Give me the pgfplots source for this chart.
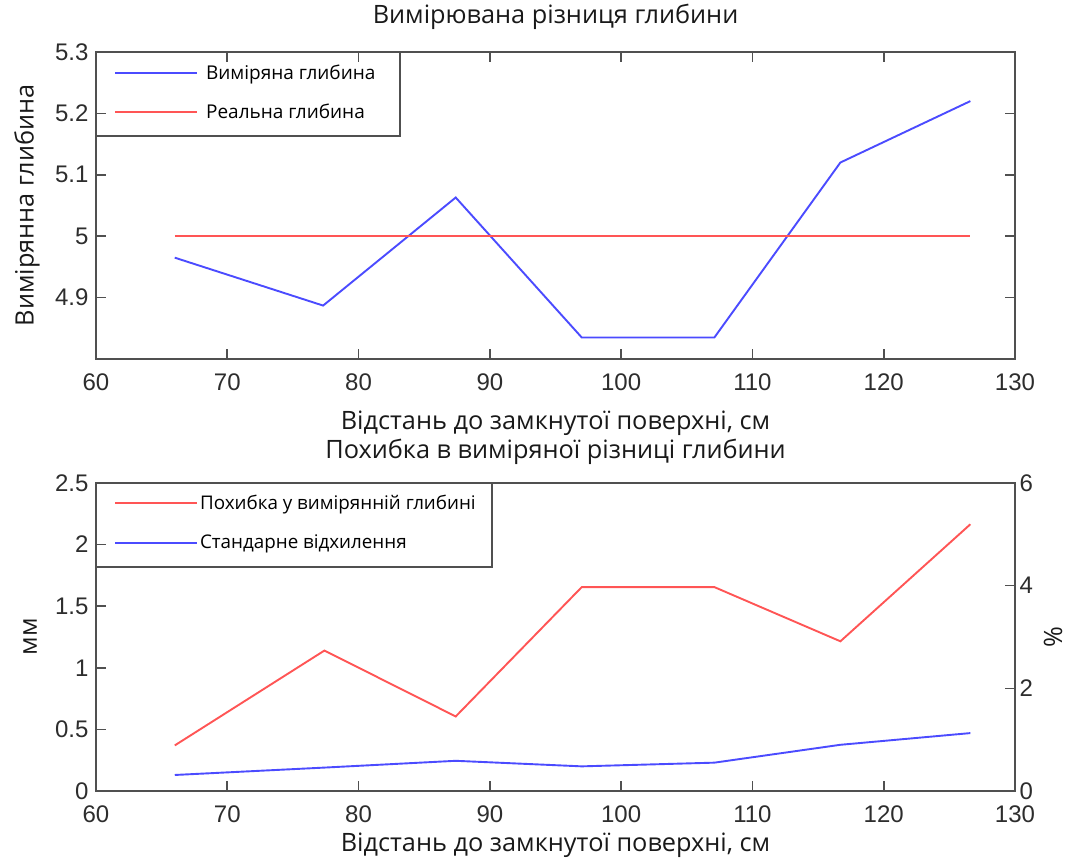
\documentclass[border=0pt]{standalone}
\usepackage{fontspec}
\usepackage{pgfplots}
\pgfplotsset{compat=1.18}
\setmainfont{Open Sans}
\newfontfamily\tickfont{Liberation Sans}
\definecolor{myred}{RGB}{255,85,85}
\definecolor{myblue}{RGB}{75,75,255}
\definecolor{axgray}{RGB}{80,80,80}
\definecolor{ticktext}{RGB}{45,45,45}
\pgfplotsset{
  mystyle/.style={
    scale only axis, width=919pt,
    xmin=60, xmax=130, xtick={60,70,...,130},
    tick align=inside, major tick length=10pt,
    axis line style={axgray, line width=1.6pt},
    tick style={axgray, line width=1.6pt},
    ticklabel style={font=\tickfont\fontsize{24}{24}\selectfont, text=ticktext},
    xticklabel style={yshift=-11pt},
    /pgf/number format/assume math mode=true,
    label style={font=\fontsize{25.3}{25.3}\selectfont, text=black!90},
    title style={font=\fontsize{25.3}{25.3}\selectfont, text=black!90},
    legend cell align=left,
    legend image code/.code={\draw[##1] (0pt,0pt) -- (82pt,0pt);},
  }
}
\begin{document}
\begin{tikzpicture}
\useasboundingbox (0,0) rectangle (1071pt,861pt);
% ---------------- top axis ----------------
\begin{axis}[mystyle,
  at={(96pt,502pt)}, anchor=south west, height=307pt,
  ymin=4.8, ymax=5.3, ytick={4.9,5,5.1,5.2,5.3},
  yticklabel style={xshift=-4pt},
  title={Вимірювана різниця глибини},
  title style={at={(0.5,1.0945)}, anchor=center},
  xlabel={Відстань до замкнутої поверхні, см},
  xlabel style={at={(0.5,-0.2085)}, anchor=center},
  ylabel={Вимірянна глибина},
  ylabel style={at={(-0.0751,0.5)}, anchor=center},
  legend style={at={(0,1)}, anchor=north west, draw=none, fill=none,
    inner xsep=18pt, inner ysep=10.5pt, row sep=19pt, column sep=6pt,
    font=\fontsize{19}{19}\selectfont},
]
\addplot[myblue, line width=1.9pt] coordinates {
 (66,4.965) (77.3,4.887) (87.4,5.063) (97,4.835) (107.1,4.835) (116.7,5.12) (126.6,5.22)};
\addlegendentry{Виміряна глибина}
\addplot[myred, line width=1.9pt] coordinates {
 (66,5) (77.3,5) (87.4,5) (97,5) (107.1,5) (116.7,5) (126.6,5)};
\addlegendentry{Реальна глибина}
\draw[axgray, line width=1.6pt] (axis description cs:0,1) rectangle +(304pt,-84pt);
\end{axis}
% ---------------- bottom axis (left, mm) ----------------
\begin{axis}[mystyle,
  at={(96pt,70pt)}, anchor=south west, height=308pt,
  xtick pos=left, ytick pos=left,
  ymin=0, ymax=2.5, ytick={0,0.5,1,1.5,2,2.5},
  yticklabel style={xshift=-4pt},
  title={Похибка в виміряної різниці глибини},
  title style={at={(0.5,1.0812)}, anchor=center},
  xlabel={Відстань до замкнутої поверхні, см},
  xlabel style={at={(0.5,-0.1753)}, anchor=center},
  ylabel={мм},
  ylabel style={at={(-0.0718,0.5)}, anchor=center},
  legend style={at={(0,1)}, anchor=north west, draw=none, fill=none,
    inner xsep=18pt, inner ysep=10pt, row sep=20pt, column sep=0pt,
    font=\fontsize{18.8}{18.8}\selectfont},
]
\addplot[myred, line width=1.9pt] coordinates {
 (66,0.37) (77.4,1.14) (87.4,0.605) (97,1.655) (107.1,1.655) (116.7,1.215) (126.6,2.165)};
\addlegendentry{Похибка у вимірянній глибині}
\addplot[myblue, line width=1.9pt] coordinates {
 (66,0.13) (77.4,0.19) (87.4,0.245) (97,0.2) (107.1,0.23) (116.7,0.375) (126.6,0.47)};
\addlegendentry{Стандарне відхилення}
\draw[axgray, line width=1.6pt] (axis description cs:0,1) rectangle +(396pt,-84pt);
\end{axis}
% ---------------- bottom axis (right, %) ----------------
\begin{axis}[mystyle,
  at={(96pt,70pt)}, anchor=south west, height=308pt,
  axis x line=none, axis y line*=right,
  ymin=0, ymax=6, ytick={0,2,4,6},
  yticklabel style={xshift=1pt},
  ylabel={\%},
  ylabel style={at={(1.0413,0.5)}, anchor=center},
]
\addplot[draw=none] coordinates {(60,0) (130,6)};
\end{axis}
\end{tikzpicture}
\end{document}
